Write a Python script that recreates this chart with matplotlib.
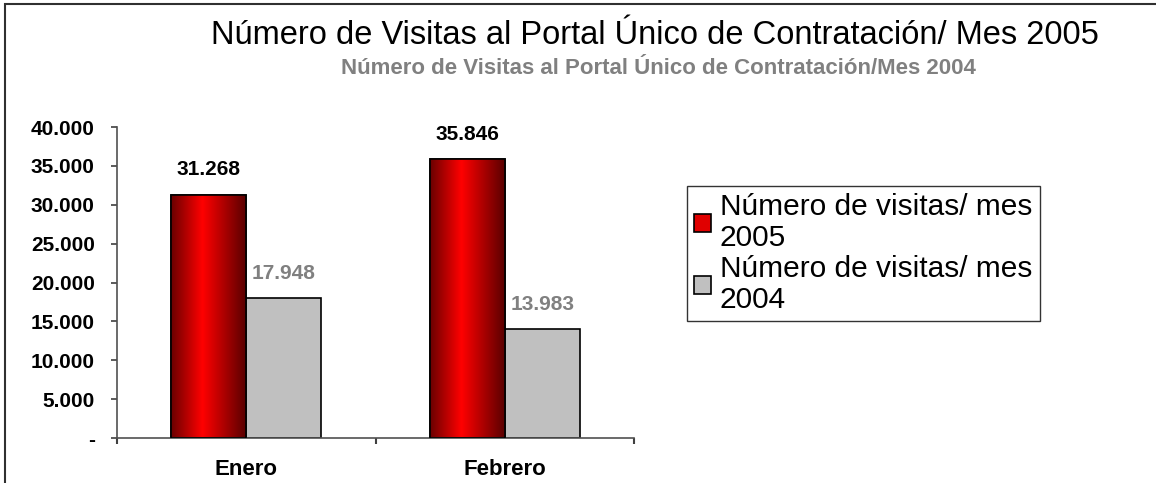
import numpy as np
import matplotlib
matplotlib.use('Agg')
import matplotlib.pyplot as plt
from matplotlib.colors import LinearSegmentedColormap
from matplotlib.patches import Rectangle
from matplotlib.ticker import FuncFormatter, FixedLocator

plt.rcParams['font.family'] = ['Liberation Sans', 'DejaVu Sans']

# datos
meses = ['Enero', 'Febrero']
visitas_2005 = [31268, 35846]
visitas_2004 = [17948, 13983]
serie_2005 = 'Número de visitas/ mes\n2005'
serie_2004 = 'Número de visitas/ mes\n2004'
titulo = 'Número de Visitas al Portal Único de Contratación/ Mes 2005'
subtitulo = 'Número de Visitas al Portal Único de Contratación/Mes 2004'

W, H = 1156, 483
fig = plt.figure(figsize=(W / 100, H / 100), dpi=100)
ax = fig.add_axes([117 / W, 1 - 438 / H, (634 - 117) / W, (438 - 127) / H])

x = np.arange(len(meses))
ancho = 0.29
rojo = LinearSegmentedColormap.from_list(
    'rojo', [(0, '#6a0000'), (0.42, '#ff0000'), (1, '#5a0000')])
grad = np.linspace(0, 1, 256).reshape(1, -1)

barras_r = ax.bar(x - ancho / 2, visitas_2005, ancho, color='#e00000',
                  edgecolor='black', linewidth=1.2, label=serie_2005, zorder=2)
barras_g = ax.bar(x + ancho / 2, visitas_2004, ancho, color='#c0c0c0',
                  edgecolor='black', linewidth=1.2, label=serie_2004, zorder=2)

# degradado de las barras rojas
for b in barras_r:
    bx, by, bw, bh = b.get_x(), b.get_y(), b.get_width(), b.get_height()
    im = ax.imshow(grad, cmap=rojo, extent=(bx, bx + bw, by, by + bh),
                   aspect='auto', zorder=2.5)
    im.set_clip_path(b)
    ax.add_patch(Rectangle((bx, by), bw, bh, fill=False, edgecolor='black',
                           linewidth=1.2, zorder=3))

for xi, v in zip(x, visitas_2005):
    ax.text(xi - ancho / 2, v + 2000, f'{v:,}'.replace(',', '.'), ha='center',
            va='bottom', fontsize=15, fontweight='bold', color='black')
for xi, v in zip(x, visitas_2004):
    ax.text(xi + ancho / 2, v + 2000, f'{v:,}'.replace(',', '.'), ha='center',
            va='bottom', fontsize=15, fontweight='bold', color='#808080')

ax.set_xlim(-0.5, len(meses) - 0.5)
ax.set_ylim(0, 40000)
ax.set_yticks(np.arange(0, 40001, 5000))
ax.yaxis.set_major_formatter(FuncFormatter(
    lambda v, p: '-' if v == 0 else f'{int(v):,}'.replace(',', '.')))
ax.set_xticks(x)
ax.set_xticklabels(meses, fontsize=16, fontweight='bold')
ax.xaxis.set_minor_locator(FixedLocator(np.arange(-0.5, len(meses), 1.0)))
ax.tick_params(axis='x', which='major', length=0, pad=15)
ax.tick_params(axis='x', which='minor', length=4.5, width=1.5, color='#404040')
ax.tick_params(axis='y', length=4.5, width=1.2, color='#404040', pad=11.5,
               labelsize=15)
for lbl in ax.get_yticklabels():
    lbl.set_fontweight('bold')
for s in ['top', 'right']:
    ax.spines[s].set_visible(False)
for s in ['left', 'bottom']:
    ax.spines[s].set_color('#505050')
    ax.spines[s].set_linewidth(1.2)

leg = fig.legend(handles=[barras_r, barras_g], loc='upper left',
                 bbox_to_anchor=(687 / W, 1 - 186 / H), fontsize=21.5,
                 frameon=True, fancybox=False, edgecolor='black',
                 handlelength=0.55, handleheight=0.55, handletextpad=0.3,
                 labelspacing=0.1, borderpad=0.25, borderaxespad=0)
leg.get_frame().set_linewidth(1.0)
leg.legend_handles[0].set_facecolor('#e00000')
for t in leg.get_texts():
    t.set_linespacing(1.12)

fig.text(655 / W, 1 - 36 / H, titulo, ha='center', va='center',
         fontsize=23.5, color='black')
fig.text(658 / W, 1 - 68 / H, subtitulo, ha='center', va='center',
         fontsize=16, fontweight='bold', color='#808080')

# marco exterior
fig.add_artist(Rectangle((5 / W, -0.1), 1.2, 1 - 4 / H + 0.1,
                         transform=fig.transFigure, fill=False,
                         edgecolor='#303030', linewidth=1.5))

fig.savefig('out.png', dpi=100)
